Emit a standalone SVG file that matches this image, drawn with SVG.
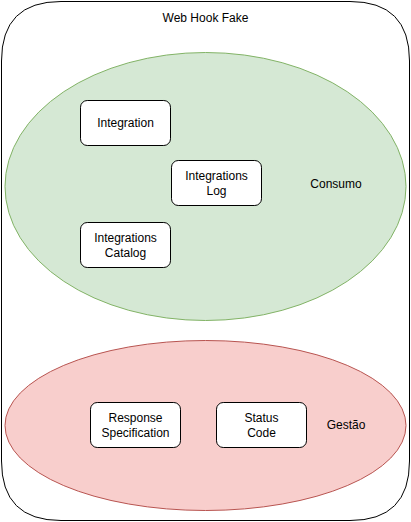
<svg xmlns="http://www.w3.org/2000/svg" width="411" height="522" viewBox="0 0 411 522">
<style>
.t{font-family:"Liberation Sans",Arial,sans-serif;font-size:12px;fill:#000;text-anchor:middle}
.box{fill:#fff;stroke:#000;stroke-width:1}
</style>
<rect width="411" height="522" fill="#fff"/>
<g id="container">
<path d="M61 1.5 L350 1.5 Q409.5 1.5 409.5 61 L409.5 461 Q409.5 520.5 350 520.5 L61 520.5 Q1.5 520.5 1.5 461 L1.5 61 Q1.5 1.5 61 1.5 Z" fill="#fff" stroke="#000" stroke-width="1"/>
<text class="t" x="205.5" y="22">Web Hook Fake</text>
</g>
<g id="consumo">
<ellipse cx="205.5" cy="186.5" rx="200.5" ry="134" fill="#d5e8d4" stroke="#82b366"/>
<text class="t" x="336" y="188">Consumo</text>
</g>
<g id="gestao">
<ellipse cx="205.5" cy="425.5" rx="200.5" ry="85" fill="#f8cecc" stroke="#b85450"/>
<text class="t" x="346" y="429">Gestão</text>
</g>
<g id="integration">
<rect class="box" x="80.5" y="100.5" width="90" height="45" rx="6.75"/>
<text class="t" x="125.5" y="127">Integration</text>
</g>
<g id="integrations-log">
<rect class="box" x="171.5" y="160.5" width="90" height="45" rx="6.75"/>
<text class="t" x="216.5" y="180">Integrations</text>
<text class="t" x="216.5" y="195">Log</text>
</g>
<g id="integrations-catalog">
<rect class="box" x="80.5" y="222.5" width="90" height="45" rx="6.75"/>
<text class="t" x="125.5" y="242">Integrations</text>
<text class="t" x="125.5" y="257">Catalog</text>
</g>
<g id="response-specification">
<rect class="box" x="90.5" y="402.5" width="90" height="45" rx="6.75"/>
<text class="t" x="135.5" y="422">Response</text>
<text class="t" x="135.5" y="437">Specification</text>
</g>
<g id="status-code">
<rect class="box" x="216.5" y="402.5" width="90" height="45" rx="6.75"/>
<text class="t" x="261.5" y="422">Status</text>
<text class="t" x="261.5" y="437">Code</text>
</g>
<g id="connectors"></g>
</svg>
